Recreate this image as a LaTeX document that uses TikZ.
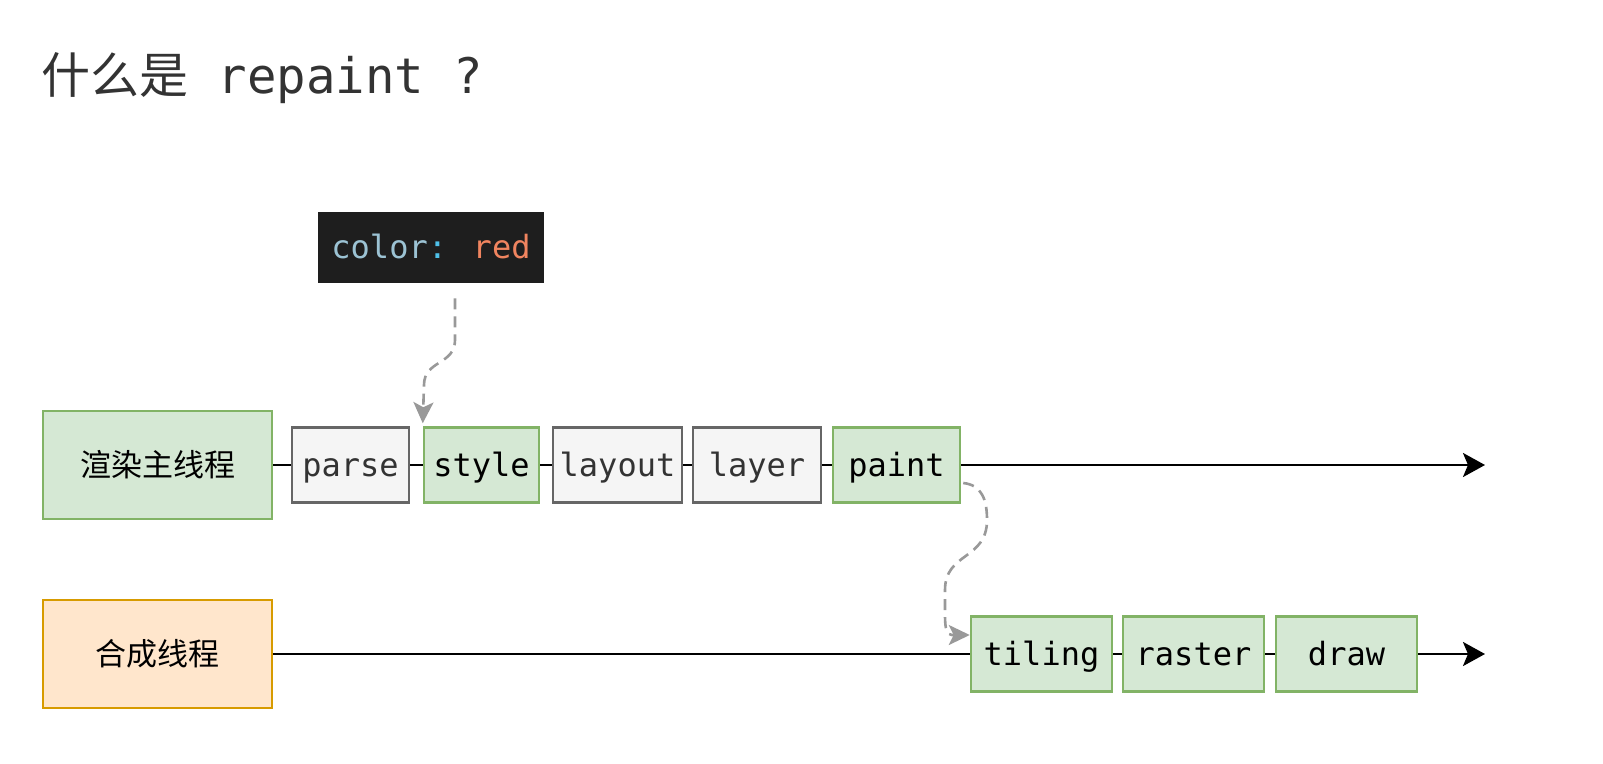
\documentclass[tikz,border=0pt]{standalone}
\usepackage{fontspec}
\setmainfont{DejaVu Sans Mono}
\newfontfamily\cjk{Noto Sans CJK SC}
\usetikzlibrary{arrows.meta}
\definecolor{greenfill}{HTML}{D5E8D4}
\definecolor{greenline}{HTML}{82B366}
\definecolor{greyfill}{HTML}{F5F5F5}
\definecolor{greyline}{HTML}{666666}
\definecolor{orangefill}{HTML}{FFE6CC}
\definecolor{orangeline}{HTML}{D79B00}
\definecolor{codebg}{HTML}{1E1E1E}
\definecolor{codekey}{HTML}{9CC3D4}
\definecolor{codecolon}{HTML}{4FC1E9}
\definecolor{codeval}{HTML}{F0845F}
\definecolor{titlegrey}{HTML}{333333}
\definecolor{dashgrey}{HTML}{999999}
\begin{document}
\begin{tikzpicture}[x=1pt,y=-1pt,
  box/.style={draw, line width=2.5pt, inner sep=0pt, text height=23pt, text depth=1pt,
    font=\fontsize{32pt}{38pt}\selectfont},
  greenbox/.style={box, fill=greenfill, draw=greenline, text=black},
  greybox/.style={box, fill=greyfill, draw=greyline, text=titlegrey},
  stagebox/.style={minimum height=75pt},
  thread/.style={minimum width=229pt, minimum height=108pt, font=\cjk\fontsize{31pt}{38pt}\selectfont},
  link/.style={line width=2.8pt, draw=black},
  flow/.style={link, -{Stealth[length=22pt,width=24pt,inset=5pt]}},
  dep/.style={draw=dashgrey, line width=2.6pt, dash pattern=on 11pt off 7pt,
    -{Stealth[length=21pt,width=20pt,inset=5pt,fill=dashgrey]}}
]
\fill[white] (0,0) rectangle (1603,763);
\useasboundingbox (0,0) rectangle (1603,763);

% title
\node[anchor=base west, inner sep=0pt, text=titlegrey, font=\fontsize{49pt}{58pt}\selectfont]
  (title) at (41,93) {{\cjk 什么是} repaint ?};

% code snippet
\node[box, fill=codebg, draw=codebg, minimum width=224pt, minimum height=69pt] (code) at (431,247.5)
  {\textcolor{codekey}{color}\textcolor{codecolon}{:} \textcolor{codeval}{red}};

% main thread row
\node[greenbox, thread] (main) at (157.5,465) {渲染主线程};
\node[greybox, stagebox, minimum width=117pt] (parse) at (350.5,465) {parse};
\node[greenbox, stagebox, minimum width=115pt] (style) at (481.5,465) {style};
\node[greybox, stagebox, minimum width=129pt] (layout) at (617.5,465) {layout};
\node[greybox, stagebox, minimum width=128pt] (layer) at (757,465) {layer};
\node[greenbox, stagebox, minimum width=127pt] (paint) at (896.5,465) {paint};
\coordinate (mainend) at (1485,465);

% compositor row
\node[box, fill=orangefill, draw=orangeline, text=black, thread] (comp) at (157.5,654) {合成线程};
\node[greenbox, stagebox, minimum width=141pt] (tiling) at (1041.5,654) {tiling};
\node[greenbox, stagebox, minimum width=141pt] (raster) at (1193.5,654) {raster};
\node[greenbox, stagebox, minimum width=141pt] (drawbox) at (1346.5,654) {draw};
\coordinate (compend) at (1485,654);

% connectors
\draw[link] (main) -- (parse);
\draw[link] (parse) -- (style);
\draw[link] (style) -- (layout);
\draw[link] (layout) -- (layer);
\draw[link] (layer) -- (paint);
\draw[flow] (paint) -- (mainend);

\draw[link] (comp) -- (tiling);
\draw[link] (tiling) -- (raster);
\draw[link] (raster) -- (drawbox);
\draw[flow] (drawbox) -- (compend);

% dashed dependencies
\draw[dep] ([xshift=24pt,yshift=-15pt]code.south) -- (455,340)
  .. controls (455,365) and (424,360) .. (424,385)
  -- ([yshift=3pt]style.north west);
\draw[dep] ([xshift=2pt,yshift=-18pt]paint.east)
  .. controls (982,485) and (987,500) .. (987,520)
  .. controls (987,560) and (945,552) .. (945,590)
  -- (945,615)
  .. controls (945,630) and (947,635) .. (952,635)
  -- ([yshift=19pt]tiling.west);
\end{tikzpicture}
\end{document}
